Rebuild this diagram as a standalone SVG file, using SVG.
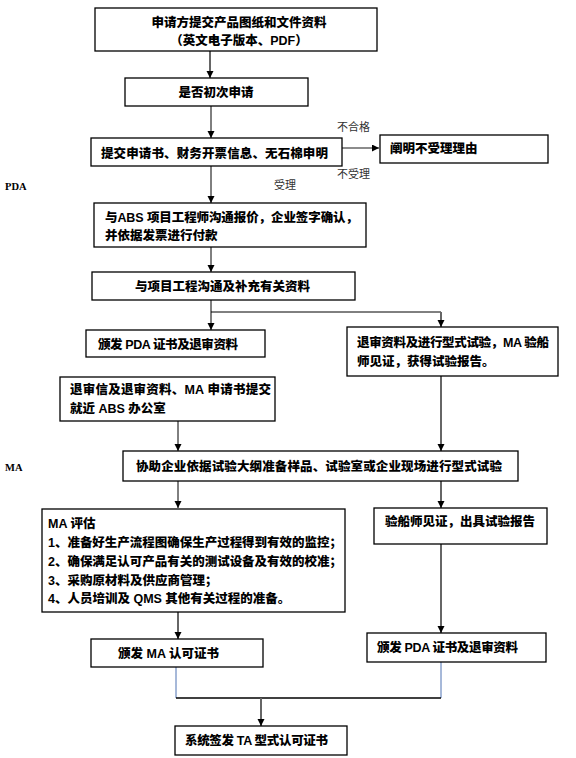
<svg xmlns="http://www.w3.org/2000/svg" width="576" height="758" viewBox="0 0 576 758">
<style>
.box{fill:#fff;stroke:#000;stroke-width:1.3}
.t{font-family:"Liberation Sans","Noto Sans CJK SC",sans-serif;font-size:12.5px;font-weight:900;fill:#000}
.s{font-family:"Liberation Sans","Noto Sans CJK SC",sans-serif;font-size:11px;fill:#333}
.side{font-family:"Liberation Serif","Noto Sans CJK SC",serif;font-size:10.5px;font-weight:bold;fill:#000}
.k{fill:none;stroke:#000;stroke-width:1}
.g{fill:none;stroke:#666;stroke-width:2}
.b{fill:none;stroke:#4f73b3;stroke-width:1}
</style>
<defs>
<marker id="ah" markerUnits="userSpaceOnUse" markerWidth="7" markerHeight="8" refX="7" refY="3.5" orient="auto">
<path d="M0,0 L7,3.5 L0,7 Z" fill="#000"/>
</marker>
</defs>
<rect width="576" height="758" fill="#fff"/>
<g id="connectors">
<line class="g" x1="210" y1="51" x2="210" y2="78" marker-end="url(#ah)"/>
<line class="k" x1="211" y1="106" x2="211" y2="138" marker-end="url(#ah)"/>
<line class="g" x1="342" y1="148" x2="379" y2="148" style="stroke-width:1.5" marker-end="url(#ah)"/>
<line class="k" x1="211" y1="166" x2="211" y2="203" marker-end="url(#ah)"/>
<line class="k" x1="211" y1="247" x2="211" y2="272" marker-end="url(#ah)"/>
<polyline class="k" points="211,300 211,312 441,312"/>
<line class="k" x1="211" y1="312" x2="211" y2="330" marker-end="url(#ah)"/>
<line class="g" x1="441" y1="312" x2="441" y2="327" marker-end="url(#ah)"/>
<line class="k" x1="178" y1="421" x2="178" y2="451" marker-end="url(#ah)"/>
<line class="g" x1="441" y1="376" x2="441" y2="451" marker-end="url(#ah)"/>
<line class="k" x1="178" y1="481" x2="178" y2="508" marker-end="url(#ah)"/>
<line class="g" x1="441" y1="481" x2="441" y2="508" marker-end="url(#ah)"/>
<line class="g" x1="178" y1="612" x2="178" y2="639" marker-end="url(#ah)"/>
<line class="g" x1="441" y1="544" x2="441" y2="633" marker-end="url(#ah)"/>
<line class="b" x1="176" y1="667" x2="176" y2="698"/>
<line class="b" x1="441" y1="662" x2="441" y2="698"/>
<line class="k" x1="176" y1="698" x2="441" y2="698" style="stroke-width:1.3"/>
<line class="g" x1="261" y1="698" x2="261" y2="726" marker-end="url(#ah)"/>
</g>
<g id="labels">
<text class="s" x="337" y="131">不合格</text>
<text class="s" x="337" y="178">不受理</text>
<text class="s" x="274" y="189">受理</text>
<text class="side" x="5" y="190">PDA</text>
<text class="side" x="5" y="471">MA</text>
</g>
<g id="n1">
<rect class="box" x="95" y="8" width="282" height="43"/>
<text class="t" x="239" y="26.5" text-anchor="middle">申请方提交产品图纸和文件资料</text>
<text class="t" x="239" y="44.5" text-anchor="middle">（英文电子版本、PDF）</text>
</g>
<g id="n2">
<rect class="box" x="125" y="78" width="183" height="28"/>
<text class="t" x="216" y="97" text-anchor="middle">是否初次申请</text>
</g>
<g id="n3">
<rect class="box" x="91" y="138" width="251" height="28"/>
<text class="t" x="101" y="157.5" textLength="227">提交申请书、财务开票信息、无石棉申明</text>
</g>
<g id="n4">
<rect class="box" x="380" y="135" width="168" height="28"/>
<text class="t" x="390" y="152.5">阐明不受理理由</text>
</g>
<g id="n5">
<rect class="box" x="94" y="203" width="272" height="44"/>
<text class="t" x="105" y="222" textLength="253">与ABS 项目工程师沟通报价，企业签字确认，</text>
<text class="t" x="105" y="240">并依据发票进行付款</text>
</g>
<g id="n6">
<rect class="box" x="92" y="272" width="263" height="28"/>
<text class="t" x="222.5" y="291" text-anchor="middle">与项目工程沟通及补充有关资料</text>
</g>
<g id="n7">
<rect class="box" x="86" y="330" width="179" height="27"/>
<text class="t" x="98" y="348.5" textLength="140">颁发 PDA 证书及退审资料</text>
</g>
<g id="n8">
<rect class="box" x="347" y="327" width="211" height="49"/>
<text class="t" x="357" y="347" textLength="192">退审资料及进行型式试验，MA 验船</text>
<text class="t" x="357" y="366">师见证，获得试验报告。</text>
</g>
<g id="n9">
<rect class="box" x="60" y="377" width="215" height="44"/>
<text class="t" x="70" y="394" textLength="201">退审信及退审资料、MA 申请书提交</text>
<text class="t" x="70" y="413">就近 ABS 办公室</text>
</g>
<g id="n10">
<rect class="box" x="123" y="451" width="395" height="30"/>
<text class="t" x="136" y="470.5" textLength="366">协助企业依据试验大纲准备样品、试验室或企业现场进行型式试验</text>
</g>
<g id="n11">
<rect class="box" x="42" y="509" width="303" height="103"/>
<text class="t" x="48" y="528">MA 评估</text>
<text class="t" x="48" y="547" textLength="294">1、准备好生产流程图确保生产过程得到有效的监控；</text>
<text class="t" x="48" y="566" textLength="294">2、确保满足认可产品有关的测试设备及有效的校准；</text>
<text class="t" x="48" y="584.5">3、采购原材料及供应商管理；</text>
<text class="t" x="48" y="603">4、人员培训及 QMS 其他有关过程的准备。</text>
</g>
<g id="n12">
<rect class="box" x="374" y="508" width="173" height="36"/>
<text class="t" x="385" y="526">验船师见证，出具试验报告</text>
</g>
<g id="n13">
<rect class="box" x="91" y="639" width="172" height="28"/>
<text class="t" x="118" y="657.5">颁发 MA 认可证书</text>
</g>
<g id="n14">
<rect class="box" x="367" y="633" width="179" height="29"/>
<text class="t" x="377" y="652" textLength="141">颁发 PDA 证书及退审资料</text>
</g>
<g id="n15">
<rect class="box" x="175" y="726" width="172" height="29"/>
<text class="t" x="185" y="745" textLength="143">系统签发 TA 型式认可证书</text>
</g>
</svg>
